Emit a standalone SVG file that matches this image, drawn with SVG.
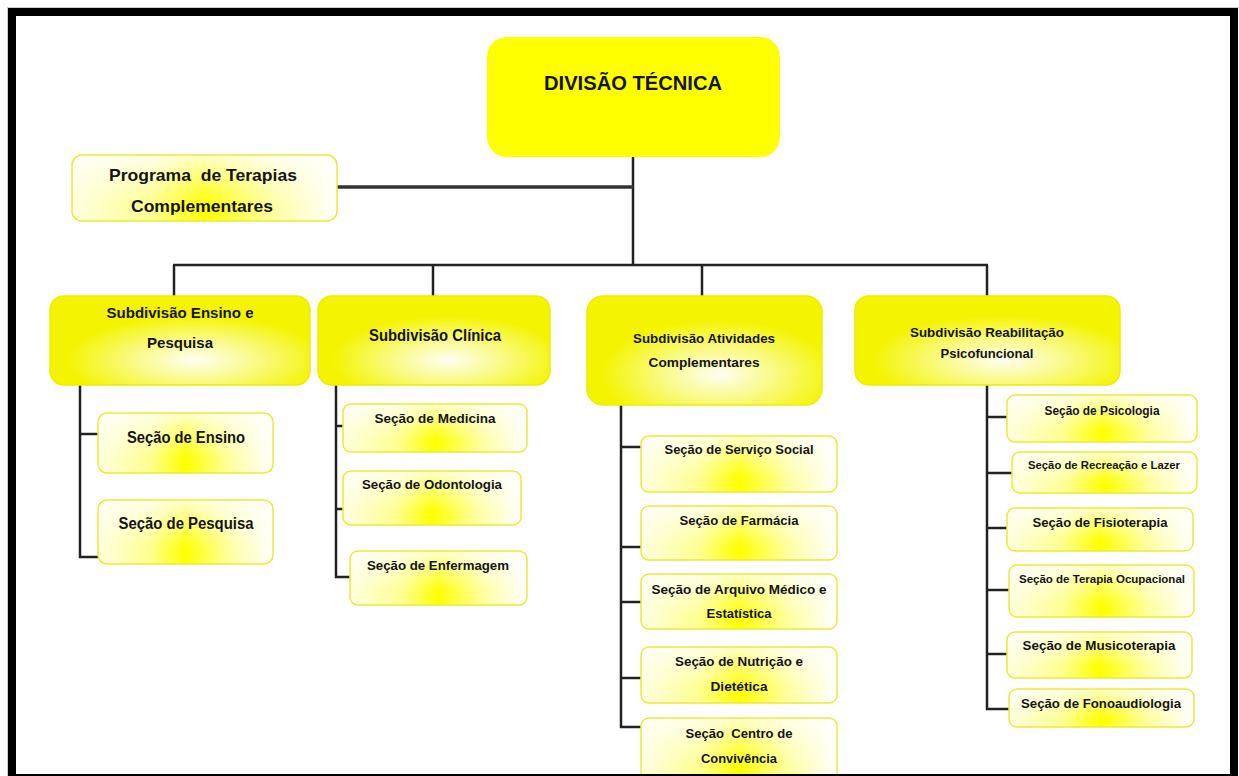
<svg xmlns="http://www.w3.org/2000/svg" width="1239" height="776" viewBox="0 0 1239 776">
<defs>
<linearGradient id="secH" x1="0" y1="0" x2="1" y2="0">
<stop offset="0" stop-color="#ffffe0"/>
<stop offset="0.3" stop-color="#ffff90"/>
<stop offset="0.5" stop-color="#ffff00"/>
<stop offset="0.75" stop-color="#ffffa0"/>
<stop offset="1" stop-color="#ffffff"/>
</linearGradient>
<linearGradient id="secV" x1="0" y1="0" x2="0" y2="1">
<stop offset="0" stop-color="#ffffff" stop-opacity="0.8"/>
<stop offset="0.35" stop-color="#ffffff" stop-opacity="0.4"/>
<stop offset="0.75" stop-color="#ffffff" stop-opacity="0"/>
</linearGradient>
<radialGradient id="subR" cx="0.56" cy="0.72" r="0.5">
<stop offset="0" stop-color="#ffffff" stop-opacity="0.95"/>
<stop offset="0.5" stop-color="#ffffff" stop-opacity="0.5"/>
<stop offset="1" stop-color="#ffffff" stop-opacity="0"/>
</radialGradient>
</defs>
<style>
.t{font-family:"Liberation Sans",Arial,sans-serif;font-weight:bold;fill:#141414;text-anchor:middle;white-space:pre}
.ln{stroke:#222;stroke-width:2.5;fill:none}
.secA{fill:url(#secH)}
.secB{fill:url(#secV);stroke:#eaea3a;stroke-width:1.5}
.subA{fill:#f4f400}
.subB{fill:url(#subR);stroke:#eded00;stroke-width:1.5}
</style>
<rect x="0" y="0" width="1239" height="776" fill="#ffffff"/>

<g id="connectors">
<line class="ln" x1="633" y1="157" x2="633" y2="266"/>
<line class="ln" x1="336" y1="187" x2="633" y2="187" style="stroke-width:3.5;stroke:#333"/>
<line class="ln" x1="173" y1="265" x2="988" y2="265"/>
<line class="ln" x1="174" y1="265" x2="174" y2="296"/>
<line class="ln" x1="433" y1="265" x2="433" y2="296"/>
<line class="ln" x1="702" y1="265" x2="702" y2="296"/>
<line class="ln" x1="987" y1="265" x2="987" y2="296"/>
<polyline class="ln" points="80,385 80,557 98,557"/>
<line class="ln" x1="80" y1="434" x2="98" y2="434"/>
<polyline class="ln" points="336,385 336,577 350,577"/>
<line class="ln" x1="336" y1="426" x2="343" y2="426"/>
<line class="ln" x1="336" y1="509" x2="343" y2="509"/>
<polyline class="ln" points="621,405 621,727 641,727"/>
<line class="ln" x1="621" y1="447" x2="641" y2="447"/>
<line class="ln" x1="621" y1="547" x2="641" y2="547"/>
<line class="ln" x1="621" y1="602" x2="641" y2="602"/>
<line class="ln" x1="621" y1="678" x2="641" y2="678"/>
<polyline class="ln" points="987,385 987,709 1009,709"/>
<line class="ln" x1="987" y1="417" x2="1007" y2="417"/>
<line class="ln" x1="987" y1="473" x2="1012" y2="473"/>
<line class="ln" x1="987" y1="528" x2="1007" y2="528"/>
<line class="ln" x1="987" y1="590" x2="1009" y2="590"/>
<line class="ln" x1="987" y1="654" x2="1007" y2="654"/>
</g>

<g id="divisao-tecnica">
<rect x="487" y="37" width="293" height="120" rx="20" fill="#ffff00"/>
<text class="t" x="633" y="90" font-size="21" textLength="178" lengthAdjust="spacingAndGlyphs">DIVISÃO TÉCNICA</text>
</g>

<g id="programa-terapias">
<rect class="secA" x="72" y="155" width="265" height="66" rx="10"/>
<rect class="secB" x="72" y="155" width="265" height="66" rx="10"/>
<text class="t" x="203" y="181" font-size="17" textLength="188" lengthAdjust="spacingAndGlyphs">Programa  de Terapias</text>
<text class="t" x="202" y="212" font-size="17" textLength="142" lengthAdjust="spacingAndGlyphs">Complementares</text>
</g>

<g id="sub-ensino-pesquisa">
<rect class="subA" x="50" y="296" width="260" height="89" rx="14"/>
<rect class="subB" x="50" y="296" width="260" height="89" rx="14"/>
<text class="t" x="180" y="318" font-size="15" textLength="147" lengthAdjust="spacingAndGlyphs">Subdivisão Ensino e</text>
<text class="t" x="180" y="348" font-size="15" textLength="66" lengthAdjust="spacingAndGlyphs">Pesquisa</text>
</g>

<g id="sub-clinica">
<rect class="subA" x="318" y="296" width="232" height="89" rx="14"/>
<rect class="subB" x="318" y="296" width="232" height="89" rx="14"/>
<text class="t" x="435" y="341" font-size="16" textLength="132" lengthAdjust="spacingAndGlyphs">Subdivisão Clínica</text>
</g>

<g id="sub-atividades">
<rect class="subA" x="587" y="296" width="235" height="109" rx="16"/>
<rect class="subB" x="587" y="296" width="235" height="109" rx="16"/>
<text class="t" x="704" y="343" font-size="13" textLength="142" lengthAdjust="spacingAndGlyphs">Subdivisão Atividades</text>
<text class="t" x="704" y="367" font-size="13" textLength="111" lengthAdjust="spacingAndGlyphs">Complementares</text>
</g>

<g id="sub-reabilitacao">
<rect class="subA" x="855" y="296" width="265" height="89" rx="14"/>
<rect class="subB" x="855" y="296" width="265" height="89" rx="14"/>
<text class="t" x="987" y="337" font-size="13" textLength="154" lengthAdjust="spacingAndGlyphs">Subdivisão Reabilitação</text>
<text class="t" x="987" y="358" font-size="13" textLength="93" lengthAdjust="spacingAndGlyphs">Psicofuncional</text>
</g>

<g id="secao-ensino">
<rect class="secA" x="98" y="413" width="175" height="60" rx="9"/>
<rect class="secB" x="98" y="413" width="175" height="60" rx="9"/>
<text class="t" x="186" y="443" font-size="16" textLength="118" lengthAdjust="spacingAndGlyphs">Seção de Ensino</text>
</g>
<g id="secao-pesquisa">
<rect class="secA" x="98" y="500" width="175" height="64" rx="9"/>
<rect class="secB" x="98" y="500" width="175" height="64" rx="9"/>
<text class="t" x="186" y="529" font-size="16" textLength="135" lengthAdjust="spacingAndGlyphs">Seção de Pesquisa</text>
</g>

<g id="secao-medicina">
<rect class="secA" x="343" y="404" width="184" height="48" rx="8"/>
<rect class="secB" x="343" y="404" width="184" height="48" rx="8"/>
<text class="t" x="435" y="423" font-size="13" textLength="121" lengthAdjust="spacingAndGlyphs">Seção de Medicina</text>
</g>
<g id="secao-odontologia">
<rect class="secA" x="343" y="471" width="178" height="54" rx="8"/>
<rect class="secB" x="343" y="471" width="178" height="54" rx="8"/>
<text class="t" x="432" y="489" font-size="13" textLength="140" lengthAdjust="spacingAndGlyphs">Seção de Odontologia</text>
</g>
<g id="secao-enfermagem">
<rect class="secA" x="350" y="551" width="177" height="54" rx="8"/>
<rect class="secB" x="350" y="551" width="177" height="54" rx="8"/>
<text class="t" x="438" y="570" font-size="13" textLength="142" lengthAdjust="spacingAndGlyphs">Seção de Enfermagem</text>
</g>

<g id="secao-servico-social">
<rect class="secA" x="641" y="436" width="196" height="56" rx="8"/>
<rect class="secB" x="641" y="436" width="196" height="56" rx="8"/>
<text class="t" x="739" y="454" font-size="13.5" textLength="149" lengthAdjust="spacingAndGlyphs">Seção de Serviço Social</text>
</g>
<g id="secao-farmacia">
<rect class="secA" x="641" y="506" width="196" height="54" rx="8"/>
<rect class="secB" x="641" y="506" width="196" height="54" rx="8"/>
<text class="t" x="739" y="525" font-size="13.5" textLength="119" lengthAdjust="spacingAndGlyphs">Seção de Farmácia</text>
</g>
<g id="secao-arquivo">
<rect class="secA" x="641" y="574" width="196" height="55" rx="8"/>
<rect class="secB" x="641" y="574" width="196" height="55" rx="8"/>
<text class="t" x="739" y="594" font-size="13.5" textLength="175" lengthAdjust="spacingAndGlyphs">Seção de Arquivo Médico e</text>
<text class="t" x="739" y="618" font-size="13.5" textLength="65" lengthAdjust="spacingAndGlyphs">Estatística</text>
</g>
<g id="secao-nutricao">
<rect class="secA" x="641" y="647" width="196" height="56" rx="8"/>
<rect class="secB" x="641" y="647" width="196" height="56" rx="8"/>
<text class="t" x="739" y="666" font-size="13.5" textLength="128" lengthAdjust="spacingAndGlyphs">Seção de Nutrição e</text>
<text class="t" x="739" y="691" font-size="13.5" textLength="57" lengthAdjust="spacingAndGlyphs">Dietética</text>
</g>
<g id="secao-centro-convivencia">
<rect class="secA" x="641" y="718" width="196" height="64" rx="8"/>
<rect class="secB" x="641" y="718" width="196" height="64" rx="8"/>
<text class="t" x="739" y="738" font-size="13.5" textLength="107" lengthAdjust="spacingAndGlyphs">Seção  Centro de</text>
<text class="t" x="739" y="763" font-size="13.5" textLength="76" lengthAdjust="spacingAndGlyphs">Convivência</text>
</g>

<g id="secao-psicologia">
<rect class="secA" x="1007" y="395" width="190" height="47" rx="8"/>
<rect class="secB" x="1007" y="395" width="190" height="47" rx="8"/>
<text class="t" x="1102" y="415" font-size="13" textLength="115" lengthAdjust="spacingAndGlyphs">Seção de Psicologia</text>
</g>
<g id="secao-recreacao">
<rect class="secA" x="1012" y="452" width="185" height="41" rx="8"/>
<rect class="secB" x="1012" y="452" width="185" height="41" rx="8"/>
<text class="t" x="1104" y="469" font-size="11" textLength="152" lengthAdjust="spacingAndGlyphs">Seção de Recreação e Lazer</text>
</g>
<g id="secao-fisioterapia">
<rect class="secA" x="1007" y="508" width="186" height="43" rx="8"/>
<rect class="secB" x="1007" y="508" width="186" height="43" rx="8"/>
<text class="t" x="1100" y="527" font-size="13" textLength="135" lengthAdjust="spacingAndGlyphs">Seção de Fisioterapia</text>
</g>
<g id="secao-terapia-ocupacional">
<rect class="secA" x="1009" y="565" width="185" height="52" rx="8"/>
<rect class="secB" x="1009" y="565" width="185" height="52" rx="8"/>
<text class="t" x="1102" y="583" font-size="11" textLength="166" lengthAdjust="spacingAndGlyphs">Seção de Terapia Ocupacional</text>
</g>
<g id="secao-musicoterapia">
<rect class="secA" x="1007" y="632" width="185" height="46" rx="8"/>
<rect class="secB" x="1007" y="632" width="185" height="46" rx="8"/>
<text class="t" x="1099" y="650" font-size="13" textLength="153" lengthAdjust="spacingAndGlyphs">Seção de Musicoterapia</text>
</g>
<g id="secao-fonoaudiologia">
<rect class="secA" x="1009" y="689" width="185" height="38" rx="8"/>
<rect class="secB" x="1009" y="689" width="185" height="38" rx="8"/>
<text class="t" x="1101" y="708" font-size="13" textLength="160" lengthAdjust="spacingAndGlyphs">Seção de Fonoaudiologia</text>
</g>

<rect x="7.5" y="7.5" width="1240" height="780" fill="none" stroke="#cccccc" stroke-width="1"/>
<rect x="12" y="12" width="1222" height="766" fill="none" stroke="#000000" stroke-width="8"/>
</svg>
